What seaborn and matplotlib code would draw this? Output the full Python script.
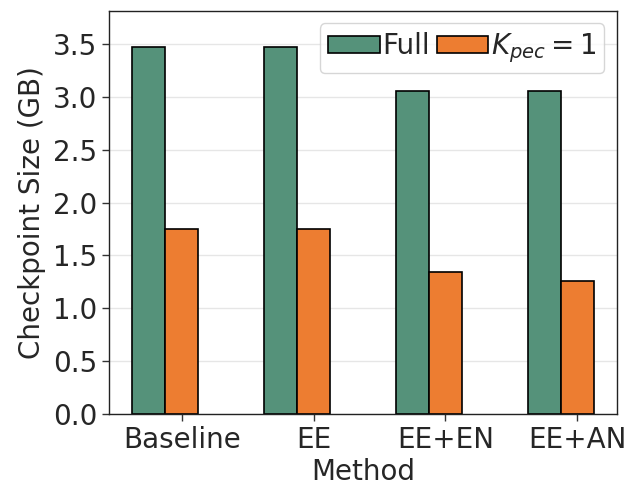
import pandas as pd
import matplotlib
matplotlib.use('Agg')
import matplotlib.pyplot as plt
import seaborn as sns
import numpy as np

# Data
methods = ['Baseline', 'EE', 'EE+EN', 'EE+AN']
full_size = [3.47, 3.47, 3.06, 3.06]
kpec_size = [1.75, 1.75, 1.34, 1.26]
series_names = ['Full', r'$K_{pec}=1$']

df = pd.DataFrame({
    'Method': methods * 2,
    'Size': full_size + kpec_size,
    'Series': [series_names[0]] * 4 + [series_names[1]] * 4,
})

sns.set_style('whitegrid')
plt.rcParams['font.family'] = ['DejaVu Sans']

fig, ax = plt.subplots(figsize=(6.27, 4.87), dpi=100)
fig.subplots_adjust(left=0.174, right=0.984, top=0.978, bottom=0.150)

sns.barplot(data=df, x='Method', y='Size', hue='Series', order=methods,
            hue_order=series_names, palette=['#55927a', '#ed7d31'],
            saturation=1, width=0.5, edgecolor='black', linewidth=1.2, ax=ax)

# ticks sit under the second bar of each group
ax.set_xticks(np.arange(len(methods)) + 0.125, methods)
ax.set_xlim(-0.25 - 0.175, len(methods) - 1 + 0.25 + 0.175)
ax.set_ylim(0, max(full_size) * 1.1)
ax.set_yticks(np.arange(0, 3.51, 0.5))

ax.grid(axis='x', visible=False)
ax.grid(axis='y', color='#e6e6e6', linewidth=1)
for s in ax.spines.values():
    s.set_color('#222222')
    s.set_linewidth(1.0)
ax.tick_params(axis='both', which='both', length=5, width=1, color='#333333',
               labelsize=20, bottom=True, left=True)

ax.set_xlabel('Method', fontsize=20, labelpad=3)
ax.set_ylabel('Checkpoint Size (GB)', fontsize=20, labelpad=5)

ax.legend(loc='upper right', ncol=2, fontsize=20, handlelength=1.85,
          handleheight=0.6, handletextpad=0.1, columnspacing=0.25,
          borderpad=0.3, borderaxespad=0.45, fancybox=True, framealpha=0.8)

plt.savefig('out.png', dpi=100)
plt.close()
